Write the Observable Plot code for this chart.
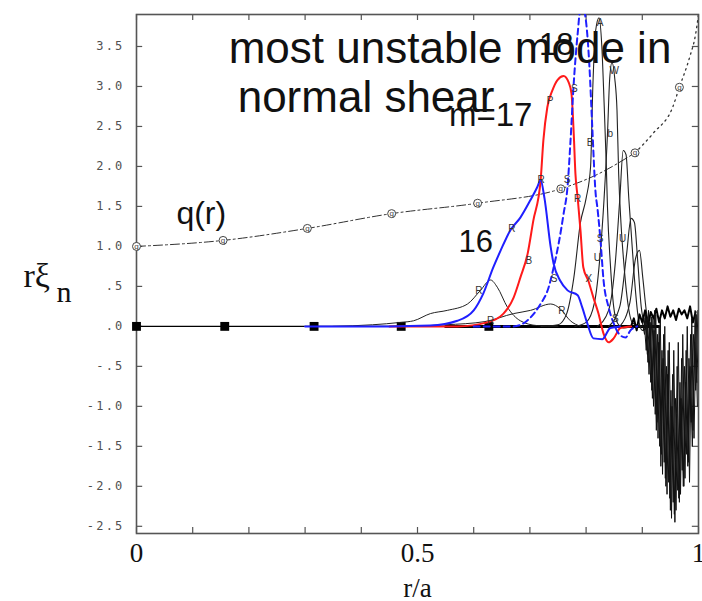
<!DOCTYPE html>
<html>
<head>
<meta charset="utf-8">
<script src="https://cdn.jsdelivr.net/npm/d3@7"></script>
<script src="https://cdn.jsdelivr.net/npm/@observablehq/plot@0.6"></script>
<style>
  html, body { margin: 0; padding: 0; background: #fff; }
  #chart svg { display: block; }
  g[aria-label="y-axis tick label"] text { letter-spacing: 2.2px; }
</style>
</head>
<body>
<div id="chart"></div>
<script>
// ---------- data ----------
const yTicks = [-2.5, -2.0, -1.5, -1.0, -0.5, 0, 0.5, 1.0, 1.5, 2.0, 2.5, 3.0, 3.5];
const xMinor = [0, 0.1, 0.2, 0.3, 0.4, 0.5, 0.6, 0.7, 0.8, 0.9, 1.0];
const xMajor = [0, 0.5, 1];
const xMajorLabels = ["0", "0.5", "1"];

// safety factor profile q(r)
const qX = [0, 0.154, 0.304, 0.454, 0.607, 0.755, 0.82, 0.887];
const qY = [1.0, 1.075, 1.225, 1.41, 1.54, 1.72, 1.9, 2.17];
const qDotX = [0.887, 0.92, 0.954, 0.966, 0.984, 0.995, 1.0];
const qDotY = [2.17, 2.42, 2.74, 2.99, 3.36, 3.66, 3.9];
const qMarkX = [0, 0.154, 0.304, 0.454, 0.607, 0.755, 0.887, 0.966];
const qMarkY = [1.0, 1.075, 1.225, 1.41, 1.54, 1.72, 2.17, 2.99];

// zero line with square markers
const zeroX = [0, 0.92];
const zeroY = [0, 0];
const zeroThickX = [0.55, 0.93];
const zeroThickY = [0, 0];
const sqX = [0, 0.157, 0.316, 0.471, 0.627];
const sqY = [0, 0, 0, 0, 0];

// m = 16 (blue solid)
const m16X = [0.30, 0.45, 0.523, 0.571, 0.600, 0.617, 0.635, 0.648, 0.665, 0.683, 0.701, 0.713, 0.719, 0.726, 0.737, 0.742, 0.754, 0.767, 0.785, 0.793, 0.802, 0.813, 0.829, 0.843, 0.86];
const m16Y = [0, 0, 0.01, 0.07, 0.20, 0.41, 0.74, 0.95, 1.20, 1.36, 1.58, 1.74, 1.83, 1.60, 0.99, 0.79, 0.57, 0.45, 0.39, 0.24, 0.04, -0.15, -0.16, -0.02, 0];

// m = 17 (red solid)
const m17X = [0.45, 0.493, 0.571, 0.624, 0.653, 0.671, 0.683, 0.696, 0.706, 0.719, 0.724, 0.731, 0.740, 0.749, 0.760, 0.769, 0.774, 0.778, 0.781, 0.785, 0.790, 0.795, 0.804, 0.813, 0.822, 0.831, 0.840, 0.849, 0.861, 0.88];
const m17Y = [0, 0, 0, 0.05, 0.16, 0.36, 0.61, 0.91, 1.32, 1.82, 2.33, 2.74, 2.95, 3.08, 3.13, 3.05, 2.91, 2.41, 1.91, 1.61, 1.20, 0.74, 0.57, 0.36, 0.16, -0.09, -0.20, -0.15, -0.02, 0];

// m = 18 (blue dashed)
const m18X = [0.60, 0.671, 0.701, 0.719, 0.733, 0.742, 0.751, 0.760, 0.767, 0.772, 0.778, 0.785, 0.790, 0.796, 0.802, 0.806, 0.811, 0.817, 0.820, 0.826, 0.831, 0.840, 0.849, 0.858, 0.870, 0.879, 0.891];
const m18Y = [0, 0, 0.11, 0.28, 0.48, 0.73, 1.03, 1.41, 1.75, 2.29, 3.04, 3.66, 3.97, 3.95, 3.66, 3.24, 2.49, 1.66, 1.49, 1.04, 0.58, 0.24, 0.04, -0.09, -0.14, -0.05, 0];

// higher m (black)
const m19X = [0.72, 0.75, 0.765, 0.778, 0.79, 0.80, 0.808, 0.812, 0.817, 0.823, 0.828, 0.832, 0.836, 0.838, 0.843, 0.849, 0.856, 0.867, 0.88];
const m19Y = [0, 0.02, 0.15, 0.6, 1.3, 1.6, 2.0, 3.0, 3.7, 3.86, 3.5, 2.8, 2.0, 1.5, 0.8, 0.25, 0.04, -0.02, 0];
const m20X = [0.78, 0.80, 0.815, 0.825, 0.832, 0.838, 0.842, 0.846, 0.851, 0.855, 0.858, 0.862, 0.867, 0.873, 0.883, 0.90];
const m20Y = [0, 0.05, 0.3, 0.9, 1.6, 2.4, 3.1, 3.3, 3.1, 2.7, 1.9, 1.3, 0.8, 0.36, 0.04, 0];
const m21X = [0.82, 0.84, 0.852, 0.86, 0.866, 0.871, 0.876, 0.88, 0.886, 0.893, 0.90, 0.91];
const m21Y = [0, 0.2, 0.8, 1.6, 2.2, 2.15, 1.6, 1.2, 0.6, 0.1, -0.05, 0];
const m22X = [0.84, 0.86, 0.872, 0.88, 0.886, 0.892, 0.898, 0.905];
const m22Y = [0, 0.25, 0.9, 1.35, 1.3, 0.8, 0.25, 0];
const m23X = [0.86, 0.878, 0.888, 0.895, 0.901, 0.908, 0.915];
const m23Y = [0, 0.3, 0.85, 0.95, 0.6, 0.15, 0];

// low black curves
const low1X = [0.35, 0.42, 0.47, 0.493, 0.523, 0.553, 0.589, 0.612, 0.63, 0.642, 0.66, 0.683, 0.713, 0.75];
const low1Y = [0, 0.02, 0.05, 0.07, 0.16, 0.20, 0.28, 0.45, 0.58, 0.49, 0.24, 0.07, 0.01, 0];
const low2X = [0.45, 0.55, 0.62, 0.671, 0.701, 0.737, 0.754, 0.772, 0.79];
const low2Y = [0, 0.02, 0.06, 0.16, 0.20, 0.28, 0.22, 0.07, 0];

// edge oscillations (black)
const nX1 = [0.900, 0.904, 0.908, 0.912, 0.916, 0.920, 0.924, 0.928, 0.932, 0.936, 0.940, 0.944, 0.948, 0.952, 0.956, 0.960, 0.964, 0.968, 0.972, 0.976, 0.980, 0.984, 0.988, 0.992, 0.996, 1.000];
const nY1 = [0.05, -0.10, 0.10, -0.60, 0.12, -1.00, 0.15, -1.40, 0.10, -1.85, 0.00, -2.10, -0.20, -2.40, -0.30, -2.30, -0.20, -2.10, -0.10, -1.90, 0.00, -1.95, 0.10, -1.40, 0.15, -0.90];
const nX2 = [0.902, 0.906, 0.910, 0.914, 0.918, 0.922, 0.926, 0.930, 0.934, 0.938, 0.942, 0.946, 0.950, 0.954, 0.958, 0.962, 0.966, 0.970, 0.974, 0.978, 0.982, 0.986, 0.990, 0.994, 0.998];
const nY2 = [-0.05, 0.15, -0.45, 0.05, -0.90, 0.20, -1.20, 0.00, -1.60, -0.10, -2.00, -0.30, -2.30, -0.60, -2.45, -0.50, -2.20, -0.40, -2.00, -0.30, -1.70, -0.10, -1.30, 0.20, -1.00];
const nX3 = [0.903, 0.907, 0.911, 0.915, 0.919, 0.923, 0.927, 0.931, 0.935, 0.939, 0.943, 0.947, 0.951, 0.955, 0.959, 0.963, 0.967, 0.971, 0.975, 0.979, 0.983, 0.987, 0.991, 0.995, 0.999];
const nY3 = [0.10, -0.30, 0.20, -0.70, 0.10, -1.10, -0.10, -1.50, -0.30, -1.70, -0.50, -1.95, -0.80, -2.20, -0.90, -2.05, -0.70, -1.80, -0.50, -1.60, -0.40, -1.20, -0.10, -0.80, 0.20];
const nX4 = [0.880, 0.885, 0.890, 0.895, 0.900, 0.905, 0.910, 0.915, 0.920, 0.925, 0.930, 0.935, 0.940, 0.945, 0.950, 0.955, 0.960, 0.965, 0.970, 0.975, 0.980, 0.985, 0.990, 0.995];
const nY4 = [0.00, 0.10, -0.05, 0.15, 0.05, 0.20, 0.00, 0.18, 0.10, 0.22, 0.05, 0.20, 0.10, 0.25, 0.12, 0.20, 0.08, 0.22, 0.15, 0.20, 0.10, 0.25, 0.05, 0.18];
const nX5 = [0.905, 0.909, 0.913, 0.917, 0.921, 0.925, 0.929, 0.933, 0.937, 0.941, 0.945, 0.949, 0.953, 0.957, 0.961, 0.965, 0.969, 0.973, 0.977, 0.981, 0.985, 0.989, 0.993, 0.997];
const nY5 = [0.15, -0.35, 0.05, -0.80, -0.05, -1.30, -0.20, -1.75, -0.40, -1.90, -0.60, -2.15, -1.00, -2.35, -1.10, -2.15, -0.90, -2.00, -0.70, -1.75, -0.50, -1.50, -0.20, -0.70];

// curve-marker letters
const markX = [0.609, 0.668, 0.698, 0.720, 0.736, 0.779, 0.766, 0.743, 0.757, 0.785, 0.805, 0.820, 0.825, 0.852, 0.850, 0.825, 0.843, 0.807, 0.630, 0.865];
const markY = [0.45, 1.22, 0.82, 1.83, 2.82, 2.97, 1.83, 0.60, 0.20, 1.60, 0.60, 0.86, 1.10, 0.10, 3.20, 3.79, 2.41, 2.30, 0.07, 1.10];
const markT = ["R", "R", "B", "R", "P", "S", "S", "S", "R", "R", "X", "U", "S", "S", "W", "A", "b", "B", "R", "U"];

// annotations
const annText = ["most unstable mode in", "normal shear", "q(r)", "16", "m=17", "18"];
const annX = [0.164, 0.18, 0.071, 0.573, 0.556, 0.716];
const annY = [3.29, 2.675, 1.275, 0.925, 2.51, 3.39];
const annSize = [44, 44, 32, 31, 33, 31];

// ---------- build ----------
const yLo = -2.59, yHi = 3.9;
const pts = (xs, ys) => xs.map((x, i) => ({x, y: ys[i]}));
const fmtY = d => {
  if (d === 0) return ".0";
  const a = Math.abs(d);
  let s = a.toFixed(1);
  if (a < 1) s = s.slice(1);
  return (d < 0 ? "-" : "") + s;
};
const line = (xs, ys, o) => Plot.line(pts(xs, ys), {x: "x", y: "y", clip: true, ...o});
const tickLenX = 0.011;   // inward tick length in x units (~6px)
const tickLenY = 0.075;   // inward tick length in y units (~6px)

const plot = Plot.plot({
  width: 702,
  height: 601,
  marginLeft: 136,
  marginRight: 4,
  marginTop: 14,
  marginBottom: 68,
  style: {fontFamily: "'Liberation Sans', Arial, sans-serif", background: "#fff"},
  x: {domain: [0, 1]},
  y: {domain: [yLo, yHi]},
  marks: [
    // axis labels
    Plot.axisY({anchor: "left", ticks: yTicks, tickSize: 0, tickPadding: 12, tickFormat: fmtY, label: null,
      fontFamily: "'DejaVu Sans Mono', monospace", fontSize: 12, color: "#505050"}),
    Plot.axisX({anchor: "bottom", ticks: xMajor, tickSize: 0, tickPadding: 9, label: null,
      tickFormat: d => xMajorLabels[xMajor.indexOf(d)],
      fontFamily: "'Liberation Serif', 'Times New Roman', serif", fontSize: 27, color: "#111"}),
    // inward ticks on all four sides
    Plot.ruleY(yTicks, {y: d => d, x1: 0, x2: tickLenX, stroke: "#555", strokeWidth: 1.2}),
    Plot.ruleY(yTicks, {y: d => d, x1: 1 - tickLenX, x2: 1, stroke: "#555", strokeWidth: 1.2}),
    Plot.ruleX(xMinor, {x: d => d, y1: yLo, y2: yLo + tickLenY, stroke: "#555", strokeWidth: 1.2}),
    Plot.ruleX(xMinor, {x: d => d, y1: yHi - tickLenY, y2: yHi, stroke: "#555", strokeWidth: 1.2}),
    Plot.frame({stroke: "#555", strokeWidth: 1.6}),
    // axis titles
    Plot.text(["r/a"], {frameAnchor: "bottom", x: 0.5, dy: 44, lineAnchor: "top",
      fontFamily: "'Liberation Serif', serif", fontSize: 27, fill: "#111"}),
    Plot.text(["rξ"], {frameAnchor: "left", y: 0.49, dx: -113, textAnchor: "start", lineAnchor: "bottom",
      fontFamily: "'Liberation Serif', serif", fontSize: 34, fill: "#111"}),
    Plot.text(["n"], {frameAnchor: "left", y: 0.31, dx: -80, textAnchor: "start", lineAnchor: "bottom",
      fontFamily: "'Liberation Serif', serif", fontSize: 30, fill: "#111"}),
    // q(r)
    line(qX, qY, {stroke: "#333", strokeWidth: 1, strokeDasharray: "9,3,2,3", curve: "monotone-x"}),
    line(qDotX, qDotY, {stroke: "#333", strokeWidth: 1.3, strokeDasharray: "1.5,4", curve: "monotone-x"}),
    Plot.dot(pts(qMarkX, qMarkY), {x: "x", y: "y", r: 4, stroke: "#444", fill: "#fff", strokeWidth: 1}),
    Plot.text(pts(qMarkX, qMarkY), {x: "x", y: "y", text: () => "q", fontSize: 8, fill: "#444"}),
    // zero line
    line(zeroX, zeroY, {stroke: "#000", strokeWidth: 1.4}),
    line(zeroThickX, zeroThickY, {stroke: "#000", strokeWidth: 3}),
    Plot.dot(pts(sqX, sqY), {x: "x", y: "y", symbol: "square", r: 5, fill: "#000"}),
    // low black curves
    line(low1X, low1Y, {stroke: "#222", strokeWidth: 1, curve: "monotone-x"}),
    line(low2X, low2Y, {stroke: "#222", strokeWidth: 1, curve: "monotone-x"}),
    // black peaks
    line(m19X, m19Y, {stroke: "#222", strokeWidth: 1.1, curve: "monotone-x"}),
    line(m20X, m20Y, {stroke: "#222", strokeWidth: 1.1, curve: "monotone-x"}),
    line(m21X, m21Y, {stroke: "#222", strokeWidth: 1.1, curve: "monotone-x"}),
    line(m22X, m22Y, {stroke: "#222", strokeWidth: 1.1, curve: "monotone-x"}),
    line(m23X, m23Y, {stroke: "#222", strokeWidth: 1.1, curve: "monotone-x"}),
    // edge oscillations
    line(nX4, nY4, {stroke: "#000", strokeWidth: 2}),
    line(nX1, nY1, {stroke: "#111", strokeWidth: 1}),
    line(nX2, nY2, {stroke: "#111", strokeWidth: 1}),
    line(nX3, nY3, {stroke: "#111", strokeWidth: 1}),
    line(nX5, nY5, {stroke: "#111", strokeWidth: 1}),
    // m=16, 17, 18
    line(m17X, m17Y, {stroke: "#ff1a1a", strokeWidth: 2, curve: "monotone-x"}),
    line(m16X, m16Y, {stroke: "#1f1fff", strokeWidth: 2, curve: "monotone-x"}),
    line(m18X, m18Y, {stroke: "#1f1fff", strokeWidth: 2, strokeDasharray: "6,4", curve: "monotone-x"}),
    // marker letters
    Plot.text(markT.map((t, i) => ({x: markX[i], y: markY[i], t})), {x: "x", y: "y", text: "t", fontSize: 10, fill: "#333"}),
    // annotations
    Plot.text(annText.map((t, i) => ({t, x: annX[i], y: annY[i], s: annSize[i]})), {
      x: "x", y: "y", text: "t", fontSize: "s", textAnchor: "start", lineAnchor: "bottom", fill: "#111"})
  ]
});
document.getElementById("chart").appendChild(plot);
</script>
</body>
</html>
